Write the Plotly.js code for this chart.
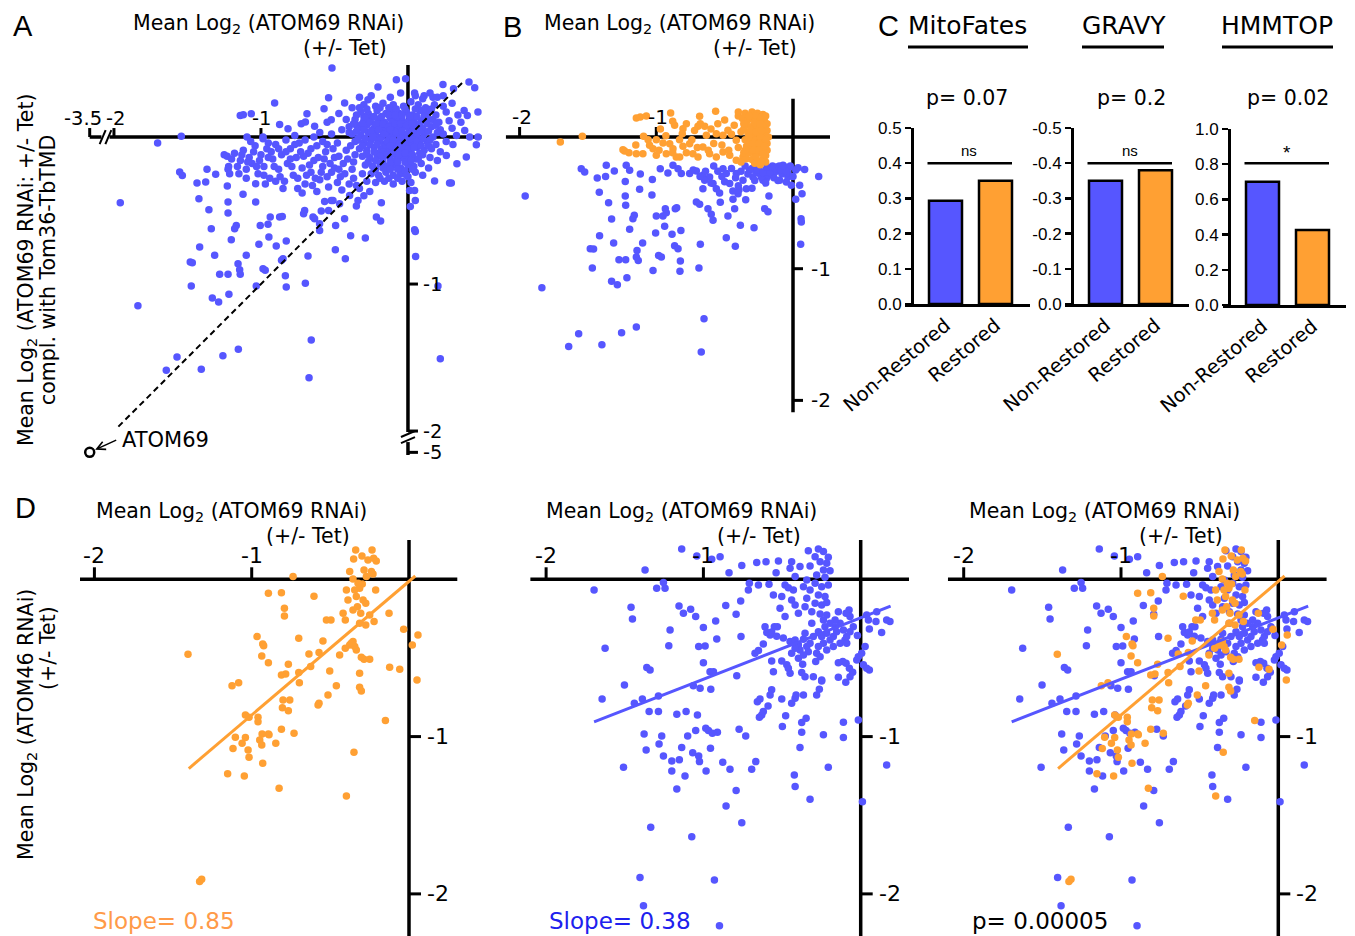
<!DOCTYPE html>
<html><head><meta charset="utf-8">
<script src="https://cdn.plot.ly/plotly-3.0.1.min.js"></script>
<style>html,body{margin:0;padding:0;background:#fff}#chart{width:1355px;height:936px}</style>
</head><body><div id="chart"></div>
<script>
// ================= DATA =================
// Panel A: Mean Log2 (ATOM69 RNAi +/- Tet) vs Mean Log2 (ATOM69 RNAi +/- Tet, compl. with Tom36-TbTMD)
const panelAPoints = [
[-0.517,0.469],[-0.079,0.390],[-0.016,0.397],[-0.204,0.340],[0.415,0.374],[0.238,0.358],[0.310,0.329],[0.454,0.336],
[0.045,0.30],[0.11,0.28],[0.17,0.27],[0.24,0.28],
[-0.540,0.268],[-0.431,0.231],[-0.907,0.231],[-0.272,0.254],[-1.141,0.147],[-1.120,0.152],[-1.066,0.159],[-0.687,0.159],
[-0.571,0.193],[-0.522,0.118],[-0.873,0.086],[-0.816,0.057],[-0.726,0.091],[-0.698,0.102],[-0.635,0.073],
[0.476,0.170],[0.382,0.181],[0.404,0.147],[0.386,0.045],[0.420,0.000],[0.476,0.000],[0.465,-0.052],[0.306,-0.050],
[0.261,-0.125],[0.333,-0.181],[0.397,-0.136],[0.181,-0.299],[0.283,-0.313],[0.295,-0.313],
[-1.542,0.005],[-1.703,-0.041],[-1.957,-0.447],[-1.837,-1.147],[-1.095,0.000],[-0.986,0.000],[-0.986,-0.011],
[-1.553,-0.238],[-1.535,-0.261],[-1.367,-0.220],[-1.308,-0.254],[-1.435,-0.313],[-1.376,-0.306],[-1.224,-0.220],[-1.213,-0.249],
[-1.422,-0.420],[-1.229,-0.333],[-1.224,-0.442],[-1.036,-0.317],[-1.036,-0.442],[-1.122,-0.390],[-1.354,-0.494],[-1.224,-0.517],
[-1.338,-0.624],[-1.168,-0.601],[-1.179,-0.624],[-0.937,-0.544],[-0.952,-0.594],[-1.005,-0.601],[-0.873,-0.544],[-0.855,-0.540],
[-1.202,-0.698],[-1.417,-0.748],[-1.315,-0.805],[-1.100,-0.805],[-1.014,-0.730],[-0.946,-0.680],[-0.896,-0.741],[-0.828,-0.707],
[-0.850,-0.828],[-0.860,-0.839],[-0.703,-0.499],[-0.710,-0.522],[-0.646,-0.544],[-0.635,-0.556],[-0.590,-0.503],[-0.540,-0.499],
[-0.522,-0.431],[-0.567,-0.438],[-0.601,-0.590],[-0.601,-0.635],[-0.431,-0.556],[-0.492,-0.601],[-0.510,-0.431],[-0.465,-0.454],
[-0.397,-0.397],[-0.351,-0.469],[-0.340,-0.431],[-0.390,-0.671],[-0.290,-0.687],[-0.494,-0.766],[-0.426,-0.828],[-0.680,-0.810],
[-1.481,-0.850],[-1.467,-0.855],[-1.281,-0.934],[-1.224,-0.934],[-1.156,-0.862],[-1.145,-0.902],[-1.141,-0.934],[-1.474,-1.014],
[-1.331,-1.095],[-1.288,-1.122],[-1.218,-1.070],[-1.032,-1.014],[-0.986,-0.896],[-0.971,-0.907],[-0.834,-0.943],[-0.828,-1.020],
[-0.698,-0.995],[0.045,-0.630],[0.050,-0.642],[0.052,-0.812],[0.016,-0.472],[0.050,-0.431],[0.011,-0.363],[0.045,-0.363],
[-0.181,-0.447],[-0.215,-0.544],[-0.186,-0.571],[0.204,-1.014],[0.220,-1.508],[-0.658,-1.381],[-0.673,-1.637],[-1.154,-1.444],
[-1.259,-1.488],[-1.406,-1.580],[-1.571,-1.497],[-1.644,-1.587],
[-1.25,-0.12],[-1.23,-0.13],[-1.2,-0.15],[-1.18,-0.11],[-1.16,-0.2],[-1.14,-0.16],[-1.12,-0.09],[-1.1,-0.22],[-1.08,-0.14],
[-1.06,-0.18],[-1.04,-0.06],[-1.02,-0.25],[-1.0,-0.12],[-0.98,-0.2],[-0.96,-0.08],[-0.94,-0.28],[-0.92,-0.15],[-0.9,-0.05],
[-0.88,-0.22],[-0.86,-0.12],[-0.84,-0.3],[-0.82,-0.18],[-0.8,-0.08],[-0.78,-0.26],[-0.76,-0.14],[-0.74,-0.04],[-0.72,-0.21],
[-0.7,-0.32],[-0.68,-0.11],[-0.66,-0.24],[-0.64,-0.16],[-0.62,-0.06],[-0.6,-0.29],[-0.58,-0.2],[-0.56,-0.1],[-0.54,-0.34],
[-0.52,-0.24],[-0.5,-0.14],[-0.48,-0.04],[-0.46,-0.27],[-0.44,-0.18],[-0.42,-0.09],[-0.4,-0.32],[-0.38,-0.22],[-0.36,-0.12],
[-0.34,-0.02],[-1.22,-0.2],[-1.1,-0.28],[-0.97,-0.32],[-0.9,-0.3],[-0.85,-0.35],[-0.75,-0.35],[-0.65,-0.33],[-0.55,-0.27],
[-0.62,-0.37],[-0.72,-0.38],[-0.48,-0.31],[-0.45,-0.36],[-0.58,-0.03],[-0.7,-0.02],[-0.83,-0.02],[-0.95,-0.04],[-1.07,-0.03],
[-0.77,0.01],[-0.64,0.0],[-0.52,0.02],[-0.4,0.03],[-0.45,0.05],[-0.6,0.03],[-0.55,0.1],[-0.42,0.12],[-0.35,0.08],[-0.3,0.14],
[-0.38,0.2],[-0.47,0.16],[-0.33,0.27],[-1.15,-0.25],[-1.05,-0.1],[-0.93,-0.1],[-0.8,-0.15],[-0.67,-0.19],[-0.57,-0.15],
[-0.5,-0.21],[-0.43,-0.25],[-0.37,-0.28],[-0.31,-0.25],[-0.28,-0.3],[-0.33,-0.35],[-0.26,-0.37],[-0.3,-0.4],[-0.35,-0.33],
[-1.13,-0.12],[-1.09,-0.17],[-1.01,-0.16],[-0.95,-0.14],[-0.91,-0.2],[-0.87,-0.27],[-0.83,-0.1],[-0.79,-0.2],[-0.75,-0.28],
[-0.71,-0.13],[-0.69,-0.26],[-0.63,-0.28],[-0.61,-0.14],[-0.59,-0.24],[-0.53,-0.18],[-0.51,-0.08],[-0.47,-0.22],[-0.41,-0.15],
[-0.39,-0.06],[-0.37,-0.17],[-0.47,-0.13],[-0.55,-0.05],[-0.66,-0.08],[-0.73,-0.1],[-0.88,-0.08],[-0.98,-0.26],[-1.03,-0.2],[-0.77,-0.05],
[-0.25,0.28],[-0.12,0.27],[-0.05,0.3],[0.05,0.28],[0.1,0.26],[0.15,0.3],[0.2,0.27],
[-0.3,0.22],[-0.22,0.21],[-0.17,0.23],[-0.1,0.22],[-0.03,0.21],[0.02,0.24],[0.07,0.22],[0.12,0.2],[0.18,0.22],[0.24,0.21],[0.3,0.23],
[-0.32,0.17],[-0.27,0.16],[-0.21,0.18],[-0.15,0.16],[-0.11,0.18],[-0.06,0.16],[-0.01,0.17],[0.03,0.15],[0.08,0.18],[0.13,0.16],[0.19,0.15],[0.26,0.17],[0.34,0.15],
[-0.36,0.12],[-0.3,0.11],[-0.25,0.13],[-0.2,0.12],[-0.16,0.1],[-0.12,0.13],[-0.08,0.11],[-0.04,0.12],[0.0,0.1],[0.04,0.12],[0.09,0.11],[0.14,0.12],[0.21,0.1],[0.28,0.11],[0.36,0.1],
[-0.4,0.07],[-0.33,0.06],[-0.28,0.08],[-0.23,0.06],[-0.19,0.07],[-0.15,0.05],[-0.11,0.08],[-0.07,0.06],[-0.03,0.07],[0.01,0.05],[0.05,0.08],[0.1,0.06],[0.16,0.07],[0.22,0.05],[0.3,0.06],
[-0.38,0.02],[-0.32,0.01],[-0.27,0.03],[-0.22,0.02],[-0.18,0.0],[-0.14,0.03],[-0.1,0.01],[-0.06,0.02],[-0.02,0.0],[0.02,0.03],[0.06,0.01],[0.11,0.02],[0.17,0.0],[0.24,0.02],[0.33,0.01],
[-0.36,-0.03],[-0.3,-0.04],[-0.25,-0.02],[-0.2,-0.03],[-0.16,-0.05],[-0.12,-0.02],[-0.08,-0.04],[-0.04,-0.03],[0.0,-0.05],[0.04,-0.02],[0.08,-0.04],[0.13,-0.03],[0.19,-0.05],[0.26,-0.03],
[-0.33,-0.08],[-0.28,-0.09],[-0.23,-0.07],[-0.18,-0.08],[-0.14,-0.1],[-0.1,-0.07],[-0.06,-0.09],[-0.02,-0.08],[0.02,-0.1],[0.06,-0.07],[0.11,-0.09],[0.16,-0.08],[0.22,-0.1],
[-0.31,-0.13],[-0.26,-0.14],[-0.21,-0.12],[-0.16,-0.13],[-0.12,-0.15],[-0.08,-0.12],[-0.04,-0.14],[0.0,-0.13],[0.05,-0.15],[0.1,-0.12],[0.15,-0.14],[0.2,-0.16],
[-0.29,-0.19],[-0.24,-0.2],[-0.19,-0.18],[-0.14,-0.2],[-0.09,-0.19],[-0.05,-0.21],[0.0,-0.19],[0.04,-0.2],[0.09,-0.18],[0.14,-0.21],
[-0.25,-0.25],[-0.2,-0.26],[-0.15,-0.24],[-0.1,-0.26],[-0.05,-0.25],[0.0,-0.27],[0.05,-0.24],[0.1,-0.26],
[-0.22,-0.31],[-0.16,-0.3],[-0.1,-0.32],[-0.04,-0.3],[0.02,-0.31],
[-0.17,0.04],[-0.13,-0.01],[-0.09,0.04],[-0.05,-0.01],[-0.21,-0.01],[-0.15,-0.07],[-0.11,0.1],[-0.19,0.09],[-0.07,0.14],
[-0.24,0.05],[-0.03,0.09],[-0.13,-0.1],[-0.2,-0.11],[-0.08,-0.16],[0.03,-0.06],
[-0.33,0.2],[-0.28,0.19],[-0.19,0.2],[-0.13,0.2],[-0.08,0.19],[-0.02,0.19],[0.05,0.19],[0.1,0.18],[0.16,0.19],
[-0.35,0.15],[-0.29,0.13],[-0.23,0.14],[-0.18,0.14],[-0.13,0.15],[-0.09,0.15],[-0.04,0.15],[0.01,0.14],[0.06,0.14],[0.11,0.14],[0.17,0.12],
[-0.37,0.09],[-0.31,0.09],[-0.26,0.1],[-0.22,0.09],[-0.17,0.09],[-0.13,0.07],[-0.09,0.09],[-0.05,0.09],[-0.01,0.08],[0.03,0.09],[0.08,0.09],[0.13,0.09],[0.19,0.08],
[-0.35,0.04],[-0.3,0.05],[-0.25,0.04],[-0.2,0.05],[-0.16,0.02],[-0.12,0.05],[-0.08,0.03],[-0.04,0.04],[0.0,0.02],[0.04,0.05],[0.08,0.04],[0.14,0.04],[0.2,0.03],
[-0.34,-0.01],[-0.29,-0.01],[-0.24,0.0],[-0.19,-0.02],[-0.14,-0.03],[-0.1,-0.02],[-0.06,-0.05],[-0.02,-0.03],[0.02,-0.01],[0.06,-0.03],[0.1,-0.01],[0.15,-0.02],
[-0.31,-0.06],[-0.26,-0.05],[-0.21,-0.05],[-0.17,-0.1],[-0.12,-0.06],[-0.08,-0.08],[-0.04,-0.07],[0.0,-0.08],[0.04,-0.07],[0.09,-0.06],[0.14,-0.06],
[-0.28,-0.11],[-0.23,-0.1],[-0.19,-0.13],[-0.14,-0.12],[-0.1,-0.11],[-0.06,-0.12],[-0.02,-0.11],[0.03,-0.12],[0.08,-0.11],
[-0.27,-0.17],[-0.22,-0.16],[-0.17,-0.17],[-0.12,-0.18],[-0.07,-0.17],[-0.02,-0.17],[0.02,-0.16],[0.07,-0.15],
[-0.22,-0.22],[-0.17,-0.21],[-0.12,-0.22],[-0.07,-0.22],[-0.02,-0.23],[0.03,-0.22],
[-0.19,-0.28],[-0.13,-0.28],[-0.07,-0.28],[-0.01,-0.26]
];
// ATOM69 itself (true values, drawn beyond the axis breaks)
const atom69Point = {label: 'ATOM69', x: -3.5, y: -5};
const identityLineRange = [-1.97, 0.37];

// Panel B: Non-restored (blue) and restored (orange) proteins
const panelBNonRestored = [
[-1.959,-0.448],[-1.837,-1.144],[-1.641,-1.590],[-1.568,-1.494],[-1.398,-1.577],[-1.254,-1.486],[-1.146,-1.443],[-0.651,-1.380],[-0.671,-1.633],
[-1.549,-0.241],[-1.524,-0.266],[-1.432,-0.311],[-1.366,-0.215],[-1.371,-0.299],[-1.307,-0.258],[-1.220,-0.215],[-1.195,-0.253],
[-1.227,-0.337],[-1.117,-0.281],[-1.029,-0.322],[-1.122,-0.397],[-1.032,-0.441],[-1.227,-0.448],[-1.417,-0.420],[-1.349,-0.499],
[-1.224,-0.519],[-1.161,-0.595],[-1.171,-0.620],[-1.327,-0.623],[-1.195,-0.701],[-1.415,-0.749],[-1.312,-0.805],[-1.100,-0.805],
[-1.483,-0.848],[-1.459,-0.851],[-1.141,-0.861],[-1.146,-0.911],[-1.132,-0.937],[-1.273,-0.932],[-1.224,-0.932],[-1.468,-0.995],
[-1.327,-1.096],[-1.285,-1.122],[-1.215,-1.068],[-1.024,-1.013],[-0.983,-0.899],[-0.963,-0.911],[-0.824,-0.942],[-0.827,-1.020],
[-0.688,-0.995],[-0.678,-0.815],[-0.866,-0.825],[-0.841,-0.848],[-0.885,-0.739],[-1.005,-0.729],[-0.939,-0.678],[-0.820,-0.709],
[-1.000,-0.600],[-0.951,-0.600],[-0.927,-0.575],[-0.934,-0.544],[-0.861,-0.544],[-0.851,-0.537],[-0.971,-0.241],[-0.915,-0.273],
[-0.878,-0.215],[-0.841,-0.241],[-0.817,-0.278],[-0.756,-0.278],[-0.707,-0.258],[-0.659,-0.291],[-0.610,-0.304],[-0.646,-0.329],
[-0.585,-0.354],[-0.561,-0.392],[-0.537,-0.425],[-0.659,-0.392],[-0.707,-0.494],[-0.683,-0.511],[-0.622,-0.544],[-0.598,-0.587],
[-0.585,-0.633],[-0.532,-0.496],[-0.476,-0.600],[-0.488,-0.765],[-0.422,-0.830],[-0.385,-0.671],[-0.285,-0.689],[-0.427,-0.544],
[-0.439,-0.473],[-0.402,-0.430],[-0.395,-0.400],[-0.341,-0.392],[-0.346,-0.476],[-0.207,-0.544],[-0.183,-0.567],[-0.176,-0.448],
[-0.512,-0.241],[-0.488,-0.278],[-0.463,-0.354],[-0.415,-0.278],[-0.366,-0.329],[-0.317,-0.253],[-0.293,-0.304],[-0.268,-0.228],
[-0.244,-0.278],[-0.220,-0.329],[-0.171,-0.253],[-0.122,-0.228],[-0.073,-0.215],[-0.024,-0.228],[0.037,-0.233],[0.085,-0.246],
[0.188,-0.299],[-0.098,-0.329],[-0.049,-0.342],[-0.012,-0.367],[0.049,-0.367],[0.066,-0.430],[0.020,-0.473],[0.059,-0.620],
[0.061,-0.646],[0.056,-0.815],[-0.195,-0.316],[-0.232,-0.304],[-0.146,-0.291],[-0.037,-0.304],
[-0.55,-0.26],[-0.52,-0.3],[-0.45,-0.24],[-0.42,-0.31],[-0.38,-0.26],[-0.35,-0.22],[-0.33,-0.28],[-0.3,-0.24],[-0.27,-0.27],
[-0.25,-0.23],[-0.23,-0.3],[-0.2,-0.25],[-0.18,-0.29],[-0.16,-0.24],[-0.14,-0.31],[-0.12,-0.26],[-0.1,-0.22],[-0.08,-0.28],
[-0.06,-0.24],[-0.04,-0.27],[-0.02,-0.22],[0.0,-0.3],[0.02,-0.25],[-0.28,-0.33],[-0.2,-0.35],[-0.11,-0.33],[-0.6,-0.35],
[-0.64,-0.26],[-0.58,-0.22],[-0.68,-0.3],[-0.73,-0.25],[-0.5,-0.34],[-0.4,-0.37],[-0.3,-0.39],[-0.44,-0.41],
[-0.26,-0.25],[-0.22,-0.27],[-0.17,-0.27],[-0.13,-0.24],[-0.09,-0.25],[-0.05,-0.26],[-0.15,-0.22],[-0.07,-0.22],[-0.19,-0.23]
];
const panelBRestored = [
[-1.702,-0.038],[-1.541,0.005],[-1.146,0.144],[-1.117,0.152],[-1.073,0.159],[-1.093,0.005],[-0.895,0.182],[-0.866,0.089],
[-0.805,0.063],[-0.810,0.025],[-0.683,0.157],[-0.678,0.101],[-0.695,0.081],[-0.646,0.081],[-0.566,0.195],[-0.634,0.013],
[-0.561,0.025],[-0.512,0.013],[-0.476,0.051],[-0.415,-0.025],
[-1.244,-0.096],[-1.232,-0.106],[-1.146,-0.127],[-1.098,-0.127],[-1.049,-0.063],[-1.024,-0.089],[-1.000,-0.139],[-0.951,-0.046],
[-0.927,-0.127],[-0.902,-0.051],[-0.878,-0.089],[-0.854,-0.152],[-0.829,-0.152],[-0.805,-0.071],[-0.756,-0.051],[-0.732,-0.127],
[-0.695,-0.152],[-0.659,-0.076],[-0.610,-0.127],[-0.561,-0.152],[-0.512,-0.114],[-0.463,-0.139],[-0.415,-0.177],[-0.366,-0.152],
[-0.341,-0.165],
[-1.0,-0.02],[-0.97,0.06],[-0.93,0.01],[-0.88,0.12],[-0.78,0.1],[-0.74,-0.02],[-0.72,0.05],[-0.6,0.06],[-0.58,-0.05],[-0.55,0.1],
[-0.52,-0.06],[-0.5,0.13],[-0.47,-0.1],[-0.45,0.02],[-0.43,0.09],[-0.4,0.16],[-0.4,-0.08],[-0.38,0.04],[-0.36,-0.12],[-0.62,-0.1],
[-0.7,-0.08],[-0.78,-0.12],[-0.83,-0.02],[-0.98,-0.1],[-1.06,-0.02],[-1.15,-0.06],[-1.2,-0.12],[-0.88,-0.12],
[-0.4,0.19],[-0.35,0.18],[-0.3,0.19],[-0.26,0.18],[-0.22,0.17],[-0.37,0.14],[-0.33,0.13],[-0.29,0.14],[-0.25,0.12],[-0.21,0.13],
[-0.19,0.1],[-0.34,0.09],[-0.3,0.08],[-0.26,0.07],[-0.22,0.08],[-0.19,0.05],[-0.36,0.06],[-0.33,0.03],[-0.29,0.02],[-0.25,0.03],
[-0.21,0.01],[-0.18,0.0],[-0.35,-0.02],[-0.31,-0.03],[-0.27,-0.02],[-0.23,-0.04],[-0.19,-0.05],[-0.34,-0.07],[-0.3,-0.08],
[-0.26,-0.07],[-0.22,-0.09],[-0.19,-0.1],[-0.32,-0.12],[-0.28,-0.13],[-0.24,-0.12],[-0.2,-0.14],[-0.3,-0.17],[-0.26,-0.18],
[-0.22,-0.17],[-0.2,-0.19],[-0.28,-0.2],[-0.24,-0.21],[-0.38,-0.19],[-0.27,0.16],[-0.23,0.15],[-0.32,0.0],[-0.24,0.0],
[-0.32,0.16],[-0.28,0.11],[-0.24,0.1],[-0.2,0.16],[-0.31,0.05],[-0.27,0.04],[-0.23,0.05],[-0.2,-0.02],[-0.29,-0.05],[-0.25,-0.05],
[-0.21,-0.07],[-0.29,-0.1],[-0.25,-0.1],[-0.22,-0.13],[-0.27,-0.15],[-0.23,-0.19],[-0.35,-0.1],[-0.36,0.1]
];

// Panel C: bar values
const groups = ['Non-Restored', 'Restored'];
const mitoFatesScore = [0.293, 0.350];
const gravyScore = [-0.350, -0.380];
const hmmtopFraction = [0.700, 0.426];
const cTitles = ['MitoFates', 'GRAVY', 'HMMTOP'];
const cPValues = ['p= 0.07', 'p= 0.2', 'p= 0.02'];
const cSignif = ['ns', 'ns', '*'];
const cSignifLevel = [0.40, -0.40, 0.805];

// Panel D: ATOM69 RNAi (x) vs ATOM46 RNAi (y)
const dRestored = [
[-1.405,-0.477],[-1.331,-1.922],[-1.318,-1.907],[-0.737,0.017],[-0.894,-0.089],[-0.811,-0.085],[-0.604,-0.108],[-0.792,-0.184],
[-0.792,-0.233],[-0.525,-0.258],[-0.496,-0.258],[-0.419,-0.216],[-0.405,-0.258],[-0.127,-0.216],[-0.034,-0.318],[0.021,-0.417],
[0.057,-0.354],[0.051,-0.640],[-0.966,-0.364],[-0.930,-0.411],[-0.924,-0.422],[-0.701,-0.375],[-0.547,-0.392],[-0.936,-0.487],
[-0.894,-0.530],[-0.767,-0.540],[-0.784,-0.602],[-0.811,-0.608],[-0.701,-0.593],[-0.697,-0.657],[-0.636,-0.475],[-0.625,-0.555],
[-0.572,-0.466],[-0.504,-0.583],[-0.462,-0.676],[-0.515,-0.735],[-0.441,-0.481],[-0.405,-0.439],[-0.377,-0.417],[-0.356,-0.396],
[-0.345,-0.428],[-0.335,-0.449],[-0.367,-0.407],[-0.314,-0.597],[-0.314,-0.686],[-0.303,-0.710],[-0.286,-0.508],[-0.250,-0.508],
[-0.303,-0.496],[-0.123,-0.559],[-0.059,-0.572],[-1.125,-0.676],[-1.083,-0.657],[-1.040,-0.862],[-1.017,-0.877],[-0.960,-0.877],
[-0.960,-0.905],[-0.801,-0.767],[-0.805,-0.816],[-0.767,-0.835],[-0.758,-0.767],[-0.578,-0.799],[-0.572,-0.788],[-1.104,-1.004],
[-1.040,-1.006],[-1.061,-1.042],[-1.023,-1.085],[-1.017,-1.131],[-1.119,-1.076],[-0.949,-1.021],[-0.936,-1.053],[-0.930,-1.169],
[-0.894,-0.983],[-0.890,-0.989],[-0.934,-0.983],[-0.847,-1.042],[-0.811,-0.953],[-0.731,-0.979],[-1.153,-1.237],[-1.047,-1.250],
[-0.826,-1.328],[-0.398,-1.377],[-0.350,-1.100],[-0.150,-0.898],
[-0.339,0.186],[-0.235,0.186],[-0.299,0.148],[-0.261,0.123],[-0.225,0.133],[-0.208,0.117],[-0.352,0.129],[-0.377,0.049],
[-0.286,0.059],[-0.239,0.049],[-0.271,0.017],[-0.229,0.034],[-0.356,0.002],[-0.324,-0.025],[-0.297,-0.030],[-0.314,-0.057],
[-0.345,-0.068],[-0.212,-0.068],[-0.388,-0.131],[-0.335,-0.110],[-0.292,-0.131],[-0.275,-0.153],[-0.328,-0.174],[-0.356,-0.195],
[-0.307,-0.216],[-0.250,-0.227],[-0.222,-0.269],[-0.275,-0.290],[-0.314,-0.280],[-0.398,-0.068]
];
const dNonRestored = [
[-1.695,-0.068],[-1.371,0.059],[-1.138,0.193],[-1.042,0.148],[-0.947,0.127],[-0.894,0.144],[-1.297,-0.057],[-1.244,-0.057],
[-1.254,-0.021],[-1.460,-0.178],[-1.451,-0.252],[-1.625,-0.439],[-1.644,-0.761],[-1.502,-0.672],[-1.360,-0.561],[-1.339,-0.576],
[-1.212,-0.322],[-1.220,-0.422],[-1.155,-0.169],[-1.127,-0.216],[-1.081,-0.191],[-1.049,-0.237],[-1.000,-0.307],[-0.922,-0.265],
[-0.915,-0.379],[-0.858,-0.167],[-0.792,-0.222],[-0.763,-0.138],[-0.761,-0.364],[-1.030,-0.428],[-0.989,-0.424],[-1.000,-0.530],
[-0.958,-0.587],[-0.936,-0.587],[-1.064,-0.676],[-1.021,-0.693],[-0.953,-0.699],[-0.788,-0.614],[-1.388,-0.761],[-1.286,-0.742],
[-1.345,-0.841],[-1.286,-0.841],[-1.439,-0.788],[-1.169,-0.858],[-1.110,-0.841],[-1.038,-0.862],[-1.377,-0.983],[-1.364,-1.085],
[-1.265,-0.996],[-1.282,-1.047],[-1.254,-1.123],[-1.508,-1.195],[-1.201,-1.155],[-1.153,-1.148],[-1.201,-1.218],[-1.117,-1.250],
[-1.169,-1.333],[-1.138,-1.070],[-1.068,-1.102],[-1.030,-1.123],[-1.025,-1.159],[-0.983,-1.218],[-0.955,-1.074],[-1.100,-0.996],
[-1.049,-0.962],[-0.985,-0.947],[-0.968,-0.962],[-0.911,-0.972],[-0.943,-0.979],[-0.877,-1.163],[-0.831,-1.208],[-0.792,-1.343],
[-0.856,-1.441],[-0.756,-1.547],[-0.773,-0.953],[-0.731,-0.996],[-0.667,-1.159],[-0.693,-1.208],[-1.335,-1.576],[-1.074,-1.636],
[-1.403,-1.896],[-1.381,-2.076],[-0.930,-1.911],[-0.898,-2.203],[-0.422,-1.244],[-0.417,-1.318],[-0.322,-1.398],[-0.206,-1.195],
[0.165,-1.180],[0.011,-1.415],[-0.015,-0.894],[-0.110,-0.909],[-0.110,-1.006],[-0.237,-0.989],[-0.386,-1.070],[-0.375,-0.972],
[-0.375,-0.911],[-0.347,-0.883],[-0.498,-0.936],[-0.477,-0.867],[-0.657,-0.778],[-0.640,-0.761],[-0.644,-0.877],[-0.629,-0.862],
[-0.619,-0.841],[-0.589,-0.805],[-0.566,-0.703],[-0.576,-0.735],[-0.502,-0.761],[-0.439,-0.788],[-0.417,-0.756],[-0.411,-0.735],
[-0.364,-0.735],[-0.280,-0.735],[-0.263,-0.699],[-0.248,-0.646],[-0.142,-0.623],[-0.095,-0.655],[-0.068,-0.619],[-0.051,-0.591],
[-0.072,-0.566],[-0.114,-0.523],[-0.093,-0.534],[-0.142,-0.530],[-0.025,-0.513],[-0.015,-0.492],[0.006,-0.470],[0.028,-0.428],
[0.017,-0.544],[0.055,-0.576],[0.038,-0.566],[0.049,-0.258],[0.102,-0.206],[0.165,-0.258],[0.186,-0.269],[0.133,-0.339],
[0.055,-0.316],[0.097,-0.269],[-0.021,-0.358],[0.038,-0.227],[-0.074,-0.195],[-0.142,-0.206],
[-0.672,-0.470],[-0.650,-0.453],[-0.619,-0.411],[-0.566,-0.519],[-0.555,-0.587],[-0.502,-0.519],[-0.470,-0.544],[-0.449,-0.597],
[-0.460,-0.566],[-0.369,-0.540],[-0.354,-0.619],[-0.375,-0.593],[-0.301,-0.619],[-0.286,-0.523],[-0.248,-0.640],
[-0.608,-0.301],[-0.576,-0.354],[-0.597,-0.339],[-0.549,-0.301],[-0.530,-0.301],[-0.566,-0.335],[-0.534,-0.362],[-0.492,-0.373],
[-0.449,-0.396],[-0.417,-0.386],[-0.396,-0.417],[-0.386,-0.449],[-0.364,-0.381],[-0.343,-0.428],[-0.333,-0.460],[-0.322,-0.407],
[-0.301,-0.364],[-0.280,-0.470],[-0.269,-0.428],[-0.248,-0.364],[-0.237,-0.407],[-0.216,-0.343],[-0.195,-0.386],[-0.174,-0.364],
[-0.163,-0.301],[-0.153,-0.333],[-0.131,-0.280],[-0.110,-0.322],[-0.100,-0.386],[-0.089,-0.364],[-0.068,-0.333],[-0.047,-0.301],
[-0.227,-0.301],[-0.269,-0.333],[-0.311,-0.280],[-0.354,-0.343],[-0.417,-0.439],[-0.439,-0.470],[-0.396,-0.502],[-0.364,-0.481],
[-0.258,-0.492],[-0.216,-0.449],[-0.174,-0.428],[-0.131,-0.407],[-0.089,-0.407],[-0.068,-0.237],[-0.093,-0.216],[-0.163,-0.258],
[-0.195,-0.280],
[-0.333,0.182],[-0.269,0.193],[-0.237,0.176],[-0.206,0.140],[-0.290,0.144],[-0.258,0.112],[-0.216,0.102],[-0.322,0.085],
[-0.237,0.059],[-0.195,0.055],[-0.280,0.028],[-0.227,0.013],[-0.343,-0.004],[-0.290,-0.025],[-0.248,-0.047],[-0.206,-0.036],
[-0.364,-0.047],[-0.322,-0.068],[-0.269,-0.100],[-0.227,-0.110],[-0.343,-0.121],[-0.290,-0.153],[-0.248,-0.163],[-0.216,-0.148],
[-0.354,-0.174],[-0.311,-0.206],[-0.258,-0.220],[-0.216,-0.227],[-0.396,-0.216],[-0.237,-0.258],[-0.417,0.017],[-0.386,0.081],
[-0.439,0.112],[-0.449,0.070],[-0.523,0.117],[-0.602,0.112],[-0.661,0.106],[-0.756,0.087],[-0.837,0.042],[-0.538,0.042],
[-0.708,-0.025],[-0.650,-0.036],[-0.583,-0.032],[-0.481,-0.036],[-0.428,-0.068],[-0.460,-0.053],[-0.502,-0.110],[-0.555,-0.100],
[-0.513,-0.184],[-0.481,-0.237],[-0.439,-0.131],[-0.417,-0.163],[-0.714,-0.068]
];
// Linear fits (slope/intercept) and the x span they were drawn over
const fitRestored = {slope: 0.85, intercept: -0.013, xSpan: [-1.40, 0.04], label: 'Slope= 0.85'};
const fitNonRestored = {slope: 0.39, intercept: -0.245, xSpan: [-1.695, 0.19], label: 'Slope= 0.38'};
const dComparisonP = 'p= 0.00005';

// ================= STYLE / LAYOUT =================
const BLUE = '#5656ff', ORANGE = '#ffa033', K = '#000';
const FONT = 'DejaVu Sans';
const W = 1355, H = 936;
const PX = p => p / W, PY = p => 1 - p / H;
const DOT = 7.5;

const xs = pts => pts.map(p => p[0]);
const ys = pts => pts.map(p => p[1]);
const dots = (pts, color, xa, ya) => ({type: 'scatter', mode: 'markers', x: xs(pts), y: ys(pts), xaxis: xa, yaxis: ya,
  marker: {size: DOT, color: color}, hoverinfo: 'skip', showlegend: false});
const fitLine = (fit, color, xa, ya) => ({type: 'scatter', mode: 'lines', x: fit.xSpan,
  y: fit.xSpan.map(v => fit.slope * v + fit.intercept), xaxis: xa, yaxis: ya,
  line: {color: color, width: 3}, hoverinfo: 'skip', showlegend: false});

// axis break mapping for panel A (values beyond the break are drawn at the break position)
const breakPosX = -2.165, breakPosY = -2.145;
const brokenX = v => v < -2.1 ? breakPosX : v;
const brokenY = v => v < -2.1 ? breakPosY : v;

const traces = [];
// Panel A
traces.push(dots(panelAPoints, BLUE, 'x', 'y'));
traces.push({type: 'scatter', mode: 'lines', x: identityLineRange, y: identityLineRange, xaxis: 'x', yaxis: 'y',
  line: {color: K, width: 2, dash: '6px,4px'}, hoverinfo: 'skip', showlegend: false});
traces.push({type: 'scatter', mode: 'markers', x: [brokenX(atom69Point.x)], y: [brokenY(atom69Point.y)], xaxis: 'x', yaxis: 'y',
  marker: {symbol: 'circle-open', size: 9, color: K, line: {width: 2.5, color: K}}, hoverinfo: 'skip', showlegend: false});
// Panel B
traces.push(dots(panelBNonRestored, BLUE, 'x2', 'y2'));
traces.push(dots(panelBRestored, ORANGE, 'x2', 'y2'));
// Panel C bars
[mitoFatesScore, gravyScore, hmmtopFraction].forEach((vals, i) => {
  const n = i + 3;
  traces.push({type: 'bar', x: [0, 1], y: vals, xaxis: 'x' + n, yaxis: 'y' + n, width: 0.66,
    marker: {color: [BLUE, ORANGE], line: {color: K, width: 2.5}}, hoverinfo: 'skip', showlegend: false});
});
// Panel D
traces.push(dots(dRestored, ORANGE, 'x6', 'y6'));
traces.push(fitLine(fitRestored, ORANGE, 'x6', 'y6'));
traces.push(dots(dNonRestored, BLUE, 'x7', 'y7'));
traces.push(fitLine(fitNonRestored, BLUE, 'x7', 'y7'));
traces.push(dots(dNonRestored, BLUE, 'x8', 'y8'));
traces.push(dots(dRestored, ORANGE, 'x8', 'y8'));
traces.push(fitLine(fitNonRestored, BLUE, 'x8', 'y8'));
traces.push(fitLine(fitRestored, ORANGE, 'x8', 'y8'));

const hidden = (domain, range) => ({domain: domain, range: range, visible: false, fixedrange: true});

const layout = {
  width: W, height: H, margin: {l: 0, r: 0, t: 0, b: 0},
  paper_bgcolor: '#fff', plot_bgcolor: 'rgba(0,0,0,0)',
  font: {family: FONT, color: K}, showlegend: false,
  xaxis: hidden([PX(80), PX(490)], [-2.231, 0.558]),
  yaxis: hidden([PY(470), PY(60)], [-2.265, 0.524]),
  xaxis2: hidden([PX(500), PX(830)], [-2.1434, 0.2707]),
  yaxis2: hidden([PY(415), PY(90)], [-2.1109, 0.3569]),
  xaxis6: hidden([PX(80), PX(465)], [-2.0916, 0.3560]),
  yaxis6: hidden([0, PY(540)], [-2.2677, 0.2498]),
  xaxis7: hidden([PX(530), PX(915)], [-2.1024, 0.3452]),
  yaxis7: hidden([0, PY(540)], [-2.2677, 0.2498]),
  xaxis8: hidden([PX(945), PX(1330)], [-2.1189, 0.3287]),
  yaxis8: hidden([0, PY(540)], [-2.2677, 0.2498]),
  shapes: [], annotations: []
};

// Panel C axes
const cBox = [
  {x0: 905, x1: 1030, center: 945.5, yAxisAt: 912, top: 128, bottom: 304, range: [0, 0.5],
   tickvals: [0, 0.1, 0.2, 0.3, 0.4, 0.5], ticktext: ['0.0', '0.1', '0.2', '0.3', '0.4', '0.5'], titleX: 967, pX: 967},
  {x0: 1065, x1: 1189, center: 1105.5, yAxisAt: 1072, top: 128, bottom: 304, range: [0, -0.5],
   tickvals: [0, -0.1, -0.2, -0.3, -0.4, -0.5], ticktext: ['0.0', '-0.1', '-0.2', '-0.3', '-0.4', '-0.5'], titleX: 1124, pX: 1131},
  {x0: 1223, x1: 1346, center: 1262.5, yAxisAt: 1229, top: 129, bottom: 305, range: [0, 1.0],
   tickvals: [0, 0.2, 0.4, 0.6, 0.8, 1.0], ticktext: ['0.0', '0.2', '0.4', '0.6', '0.8', '1.0'], titleX: 1277, pX: 1288}
];
const underline = [[908, 1028], [1082, 1164], [1222, 1333]];
cBox.forEach((c, i) => {
  const n = i + 3;
  const catSpacing = 50;
  layout['xaxis' + n] = {domain: [PX(c.x0), PX(c.x1)], range: [(c.x0 - c.center) / catSpacing, (c.x1 - c.center) / catSpacing],
    anchor: 'y' + n, showline: true, linewidth: 2.5, linecolor: K, ticks: '', tickvals: [0, 1], ticktext: groups,
    tickangle: -40, tickfont: {family: FONT, size: 19.5, color: K}, showgrid: false, zeroline: false, fixedrange: true};
  layout['yaxis' + n] = {domain: [PY(c.bottom), PY(c.top)], range: c.range, anchor: 'free', position: PX(c.yAxisAt),
    showline: true, linewidth: 2.5, linecolor: K, ticks: 'outside', ticklen: 6, tickwidth: 2.5, tickcolor: K,
    tickvals: c.tickvals, ticktext: c.ticktext, tickfont: {family: 'Liberation Sans', size: 17, color: K},
    showgrid: false, zeroline: false, fixedrange: true};
  // middle tick on category axis
  layout.shapes.push({type: 'line', xref: 'x' + n, yref: 'y' + n, x0: 0.5, x1: 0.5, ysizemode: 'pixel', yanchor: 0,
    y0: 0, y1: -7, line: {color: K, width: 2.5}});
  // significance bar
  layout.shapes.push({type: 'line', xref: 'x' + n, yref: 'y' + n, x0: -0.36, x1: 1.33, y0: cSignifLevel[i], y1: cSignifLevel[i],
    line: {color: K, width: 2.5}});
  layout.annotations.push({xref: 'x' + n, yref: 'y' + n, x: 0.48, y: cSignifLevel[i], yshift: cSignif[i] === '*' ? 11 : 13,
    text: cSignif[i], showarrow: false, font: {family: 'Liberation Sans', size: cSignif[i] === '*' ? 19 : 15, color: K}});
  // titles, underline, p-values
  layout.annotations.push({xref: 'paper', yref: 'paper', x: PX(c.titleX), y: PY(25), text: cTitles[i], showarrow: false,
    xanchor: 'center', yanchor: 'middle', font: {family: FONT, size: 25, color: K}});
  layout.shapes.push({type: 'line', xref: 'paper', yref: 'paper', x0: PX(underline[i][0]), x1: PX(underline[i][1]),
    y0: PY(47), y1: PY(47), line: {color: K, width: 3}});
  layout.annotations.push({xref: 'paper', yref: 'paper', x: PX(c.pX), y: PY(98), text: cPValues[i], showarrow: false,
    xanchor: 'center', yanchor: 'middle', font: {family: FONT, size: 20.5, color: K}});
});

// helpers for hand-drawn (crossing) axes
const LW = 3.5;
const seg = (xr, yr, x0, y0, x1, y1) => ({type: 'line', xref: xr, yref: yr, x0: x0, y0: y0, x1: x1, y1: y1,
  line: {color: K, width: LW}, layer: 'below'});
const xTick = (xr, yr, v, len) => ({type: 'line', xref: xr, yref: yr, ysizemode: 'pixel', yanchor: 0,
  x0: v, x1: v, y0: 0, y1: len, line: {color: K, width: 3}, layer: 'below'});
const yTick = (xr, yr, v, len) => ({type: 'line', xref: xr, yref: yr, xsizemode: 'pixel', xanchor: 0,
  y0: v, y1: v, x0: 0, x1: len, line: {color: K, width: 3}, layer: 'below'});
const xLab = (xr, yr, v, txt, shift, size, dx) => ({xref: xr, yref: yr, x: v, y: 0, yshift: shift, xshift: dx || 0, text: txt,
  showarrow: false, xanchor: 'center', yanchor: 'middle', font: {family: FONT, size: size, color: K}});
const yLab = (xr, yr, v, txt, shift, size) => ({xref: xr, yref: yr, x: 0, y: v, xshift: shift, text: txt,
  showarrow: false, xanchor: 'left', yanchor: 'middle', font: {family: FONT, size: size, color: K}});
const slash = (xr, yr, ax, ay, dx, dy) => ({type: 'line', xref: xr, yref: yr, xsizemode: 'pixel', ysizemode: 'pixel',
  xanchor: ax, yanchor: ay, x0: -dx, x1: dx, y0: -dy, y1: dy, line: {color: K, width: 2}, layer: 'above'});

// Panel A axes
layout.shapes.push(seg('x', 'y', breakPosX, 0, -2.085, 0), seg('x', 'y', -2.03, 0, 0.50, 0),
  seg('x', 'y', 0, 0.49, 0, -2.007), seg('x', 'y', 0, -2.075, 0, -2.163),
  xTick('x', 'y', breakPosX, 9), xTick('x', 'y', -2, 9), xTick('x', 'y', -1, 9),
  yTick('x', 'y', -1, 10), yTick('x', 'y', -2, 10), yTick('x', 'y', breakPosY, 10),
  slash('x', 'y', -2.077, 0, 3, 7), slash('x', 'y', -2.038, 0, 3, 7),
  slash('x', 'y', 0, -2.02, 7, 3), slash('x', 'y', 0, -2.062, 7, 3));
layout.annotations.push(xLab('x', 'y', breakPosX, '-3.5', 19, 19.5, -7), xLab('x', 'y', -2, '-2', 19, 19.5, 2),
  xLab('x', 'y', -1, '-1', 19, 19.5, 1),
  yLab('x', 'y', -1, '-1', 13, 19.5), yLab('x', 'y', -2, '-2', 13, 19.5), yLab('x', 'y', breakPosY, '-5', 13, 19.5));
layout.annotations.push({xref: 'x', yref: 'y', x: brokenX(atom69Point.x), y: brokenY(atom69Point.y), ax: 28, ay: -13,
  axref: 'pixel', ayref: 'pixel', text: '', showarrow: true, arrowhead: 5, arrowsize: 1.1, arrowwidth: 1.5, arrowcolor: K, standoff: 6});
layout.annotations.push({xref: 'paper', yref: 'paper', x: PX(120), y: PY(440), xanchor: 'left', yanchor: 'middle',
  text: atom69Point.label, showarrow: false, font: {family: FONT, size: 21, color: K}});

// Panel B axes
layout.shapes.push(seg('x2', 'y2', -2.10, 0, 0.29, 0), seg('x2', 'y2', 0, 0.29, 0, -2.09),
  xTick('x2', 'y2', -2, 10), xTick('x2', 'y2', -1, 10), yTick('x2', 'y2', -1, 10), yTick('x2', 'y2', -2, 10));
layout.annotations.push(xLab('x2', 'y2', -2, '-2', 20, 20, 2), xLab('x2', 'y2', -1, '-1', 20, 20, 2),
  yLab('x2', 'y2', -1, '-1', 16, 20), yLab('x2', 'y2', -2, '-2', 16, 20));

// Panel D axes
['6', '7', '8'].forEach(n => {
  const xr = 'x' + n, yr = 'y' + n;
  layout.shapes.push(seg(xr, yr, -2.10, 0, 0.307, 0), seg(xr, yr, 0, 0.25, 0, -2.27),
    xTick(xr, yr, -2, 12), xTick(xr, yr, -1, 12), yTick(xr, yr, -1, 12), yTick(xr, yr, -2, 12));
  layout.annotations.push(xLab(xr, yr, -2, '-2', 24, 22, 0), xLab(xr, yr, -1, '-1', 24, 22, 0),
    yLab(xr, yr, -1, '-1', 16, 22), yLab(xr, yr, -2, '-2', 16, 22));
});

// Text labels (paper coordinates)
const txt = (x, y, text, size, opts) => Object.assign({xref: 'paper', yref: 'paper', x: PX(x), y: PY(y), text: text,
  showarrow: false, xanchor: 'center', yanchor: 'middle', font: {family: FONT, size: size, color: K}}, opts || {});
const titleMain = 'Mean Log<sub>2</sub> (ATOM69 RNAi)';
const panelFont = {family: 'Liberation Sans', size: 29, color: K};
layout.annotations.push(
  txt(23, 26, 'A', 29, {font: panelFont}),
  txt(512, 27, 'B', 29, {font: panelFont}),
  txt(888, 26, 'C', 29, {font: panelFont}),
  txt(25, 508, 'D', 29, {font: panelFont}),
  txt(268, 24, titleMain, 20.5), txt(345, 48, '(+/- Tet)', 20.5),
  txt(679, 24, titleMain, 20.5), txt(755, 48, '(+/- Tet)', 20.5),
  txt(231, 512, titleMain, 20.5), txt(308, 536, '(+/- Tet)', 20.5),
  txt(682, 512, titleMain, 20.5), txt(759, 536, '(+/- Tet)', 20.5),
  txt(1104, 512, titleMain, 20.5), txt(1181, 536, '(+/- Tet)', 20.5),
  txt(27, 270, 'Mean Log<sub>2</sub> (ATOM69 RNAi: +/- Tet)', 20.5, {textangle: -90}),
  txt(48, 270, 'compl. with Tom36-TbTMD', 20.5, {textangle: -90}),
  txt(27, 725, 'Mean Log<sub>2</sub> (ATOM46 RNAi)', 20.5, {textangle: -90}),
  txt(48, 648, '(+/- Tet)', 20.5, {textangle: -90}),
  txt(164, 921, fitRestored.label, 23, {font: {family: FONT, size: 23, color: '#ff9a48'}}),
  txt(620, 921, fitNonRestored.label, 23, {font: {family: FONT, size: 23, color: '#2020ee'}}),
  txt(1040, 921, dComparisonP, 23)
);

Plotly.newPlot('chart', traces, layout, {staticPlot: true, displayModeBar: false});
</script>
</body></html>
